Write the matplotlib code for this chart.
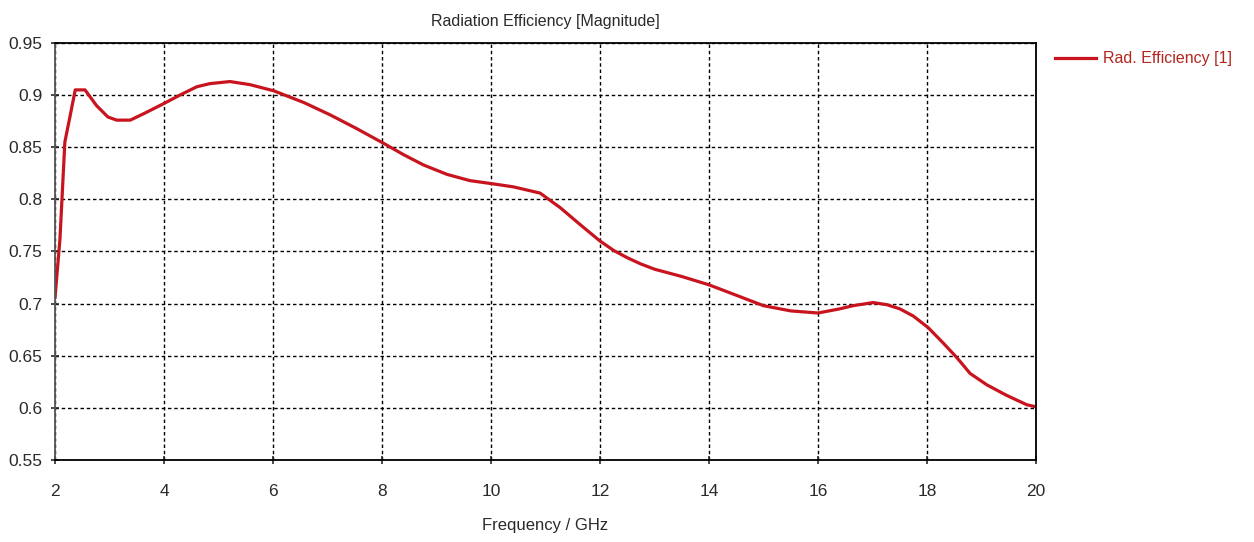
import matplotlib

matplotlib.use("Agg")
import matplotlib.pyplot as plt

# Radiation efficiency sweep, 2-20 GHz
freq_ghz = [
    2.0, 2.09, 2.18, 2.28, 2.37, 2.55, 2.76, 2.97, 3.13, 3.38, 3.62, 4.0,
    4.29, 4.6, 4.84, 5.21, 5.58, 6.02, 6.46, 6.56, 7.05, 7.53, 8.02, 8.39,
    8.76, 9.19, 9.61, 10.02, 10.41, 10.9, 11.27, 11.63, 12.0, 12.25, 12.5,
    12.75, 13.0, 13.5, 14.0, 14.5, 15.0, 15.5, 16.0, 16.4, 16.64, 17.01,
    17.26, 17.5, 17.75, 18.02, 18.3, 18.55, 18.79, 19.1, 19.46, 19.83, 20.0,
]
rad_efficiency = [
    0.706, 0.762, 0.855, 0.881, 0.905, 0.905, 0.890, 0.879, 0.876, 0.876,
    0.882, 0.892, 0.900, 0.908, 0.911, 0.913, 0.910, 0.904, 0.895, 0.893,
    0.881, 0.868, 0.854, 0.843, 0.833, 0.824, 0.818, 0.815, 0.812, 0.806,
    0.792, 0.776, 0.760, 0.751, 0.744, 0.738, 0.733, 0.726, 0.718, 0.708,
    0.698, 0.693, 0.691, 0.695, 0.698, 0.701, 0.699, 0.695, 0.688, 0.677,
    0.662, 0.648, 0.633, 0.622, 0.612, 0.603, 0.601,
]
x_ticks = [2, 4, 6, 8, 10, 12, 14, 16, 18, 20]
y_ticks = [0.55, 0.6, 0.65, 0.7, 0.75, 0.8, 0.85, 0.9, 0.95]
y_tick_labels = ["0.55", "0.6", "0.65", "0.7", "0.75", "0.8", "0.85", "0.9", "0.95"]

LINE_COLOR = "#c8141e"
TEXT_COLOR = "#2a2a2a"

plt.rcParams["font.family"] = ["Liberation Sans", "DejaVu Sans"]

fig = plt.figure(figsize=(12.54, 5.42), dpi=100)
ax = fig.add_axes([0.0439, 0.1513, 0.7823, 0.7694])

ax.plot(freq_ghz, rad_efficiency, color=LINE_COLOR, linewidth=2.3,
        label="Rad. Efficiency [1]")

ax.set_xlim(2, 20)
ax.set_ylim(0.55, 0.95)
ax.set_xticks(x_ticks)
ax.set_yticks(y_ticks)
ax.set_yticklabels(y_tick_labels)
ax.tick_params(axis="both", direction="inout", length=6, width=1.2,
               labelsize=12.5, colors=TEXT_COLOR)
ax.tick_params(axis="x", pad=14)
ax.tick_params(axis="y", pad=6)

ax.grid(True, color="black", linestyle=(0, (2.5, 2)), linewidth=1.0)
ax.set_axisbelow(True)
for side in ("top", "right", "bottom"):
    ax.spines[side].set_color("black")
    ax.spines[side].set_linewidth(1.3)
ax.spines["left"].set_color("#555555")
ax.spines["left"].set_linewidth(1.3)

ax.set_title("Radiation Efficiency [Magnitude]", fontsize=11.5,
             color=TEXT_COLOR, pad=12)
ax.set_xlabel("Frequency / GHz", fontsize=12, color=TEXT_COLOR, labelpad=14)

ax.legend(loc="upper left", bbox_to_anchor=(1.019, 0.98), frameon=False,
          fontsize=11.5, labelcolor="#b3261e", handlelength=2.6,
          handletextpad=0.4, borderpad=0, borderaxespad=0)

fig.savefig("out.png", dpi=100, facecolor="white")
